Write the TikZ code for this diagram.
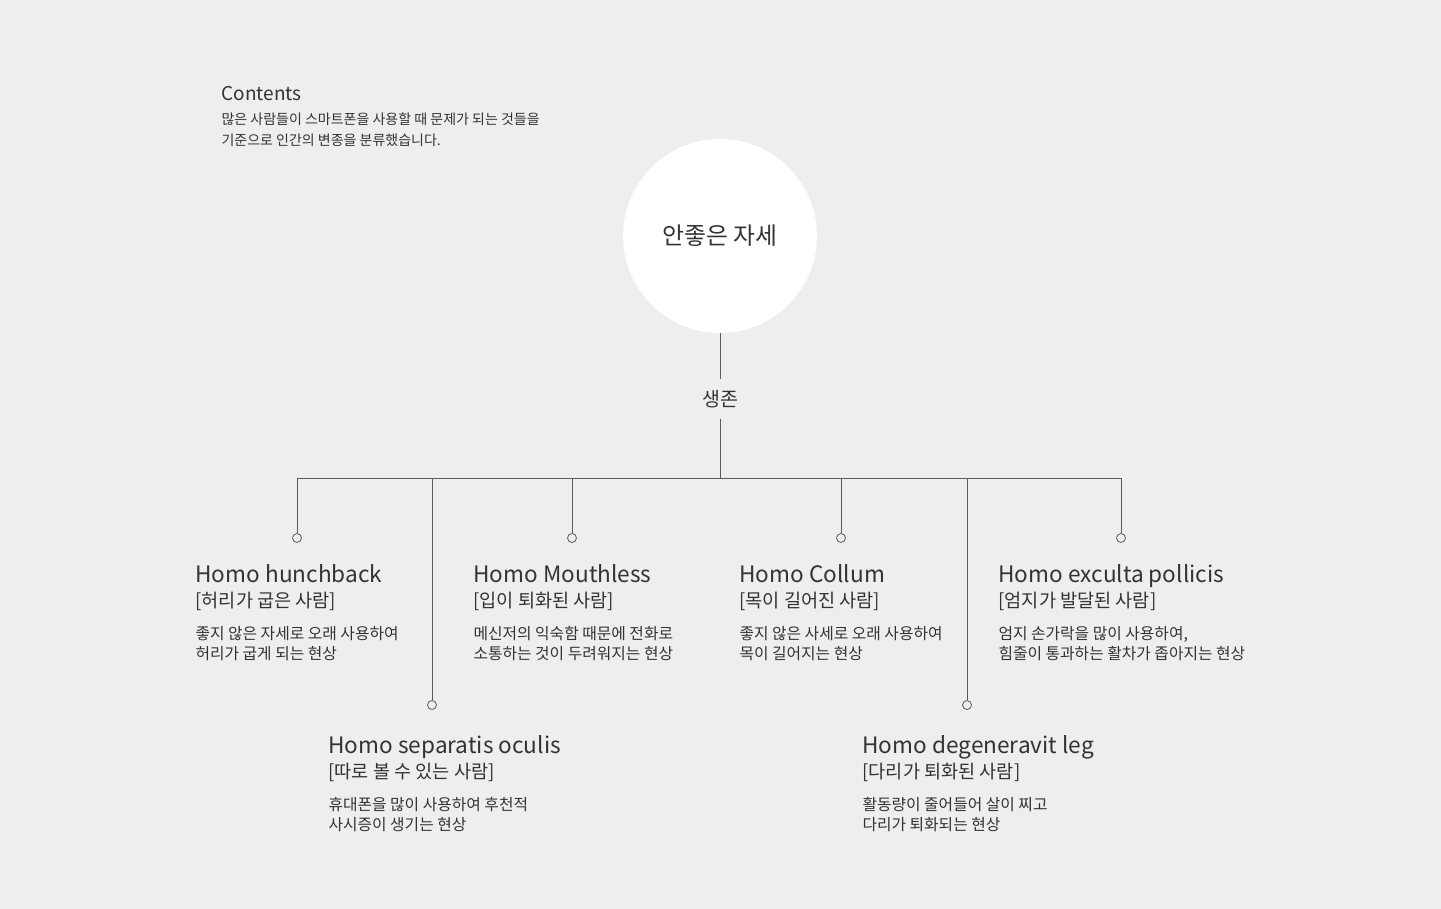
\documentclass[tikz,border=0pt]{standalone}
\usepackage{fontspec}
\setmainfont{Noto Sans CJK KR}
\usetikzlibrary{positioning}
\definecolor{bgcol}{RGB}{238,238,238}
\definecolor{txtcol}{RGB}{51,51,51}
\definecolor{linecol}{RGB}{90,90,90}

\begin{document}
\begin{tikzpicture}[x=1pt,y=-1pt,line width=1pt,draw=linecol,
  root node/.style={circle,fill=white,minimum size=194pt,inner sep=0pt,text=txtcol,font=\fontsize{23.8}{28}\selectfont},
  link node/.style={inner sep=0pt,minimum height=38pt,text=txtcol,font=\fontsize{19.5}{22}\selectfont},
  dot node/.style={circle,draw=linecol,fill=bgcol,line width=0.8pt,minimum size=9pt,inner sep=0pt},
  title node/.style={anchor=base west,inner sep=0pt,text=txtcol,font=\fontsize{22.6}{26}\selectfont},
  sub node/.style={anchor=base west,inner sep=0pt,text=txtcol,font=\fontsize{18.6}{22}\selectfont},
  desc node/.style={anchor=north west,inner sep=0pt,text=txtcol,align=left,font=\fontsize{15.8}{20}\selectfont}]

  \fill[bgcol] (0,0) rectangle (1441,909);
  \useasboundingbox (0,0) rectangle (1441,909);

  \node[anchor=base west,inner sep=0pt,text=txtcol,font=\fontsize{19}{24}\selectfont] (cont) at (221,101) {Contents};
  \node[desc node,font=\fontsize{14}{21}\selectfont] (intro) at (221,112) {많은 사람들이 스마트폰을 사용할 때 문제가 되는 것들을\\기준으로 인간의 변종을 분류했습니다.};

  \node[root node] (root) at (720,236) {안좋은 자세};
  \node[link node] (surv) at (720,399) {생존};
  \coordinate (hub) at (720,478);

  \coordinate (b1) at (297,478);
  \coordinate (b2) at (432,478);
  \coordinate (b3) at (572,478);
  \coordinate (b4) at (841,478);
  \coordinate (b5) at (967,478);
  \coordinate (b6) at (1121,478);

  \node[dot node] (d1) at (297,538) {};
  \node[dot node] (d2) at (432,705) {};
  \node[dot node] (d3) at (572,538) {};
  \node[dot node] (d4) at (841,538) {};
  \node[dot node] (d5) at (967,705) {};
  \node[dot node] (d6) at (1121,538) {};

  \node[title node] (t1) at (195,582) {Homo hunchback};
  \node[sub node] (s1) at (195,607) {[허리가 굽은 사람]};
  \node[desc node] (e1) at (195,626) {좋지 않은 자세로 오래 사용하여\\허리가 굽게 되는 현상};

  \node[title node] (t3) at (473,582) {Homo Mouthless};
  \node[sub node] (s3) at (473,607) {[입이 퇴화된 사람]};
  \node[desc node] (e3) at (473,626) {메신저의 익숙함 때문에 전화로\\소통하는 것이 두려워지는 현상};

  \node[title node] (t4) at (739,582) {Homo Collum};
  \node[sub node] (s4) at (739,607) {[목이 길어진 사람]};
  \node[desc node] (e4) at (739,626) {좋지 않은 사세로 오래 사용하여\\목이 길어지는 현상};

  \node[title node] (t6) at (998,582) {Homo exculta pollicis};
  \node[sub node] (s6) at (998,607) {[엄지가 발달된 사람]};
  \node[desc node] (e6) at (998,626) {엄지 손가락을 많이 사용하여,\\힘줄이 통과하는 활차가 좁아지는 현상};

  \node[title node] (t2) at (328,753) {Homo separatis oculis};
  \node[sub node] (s2) at (328,778) {[따로 볼 수 있는 사람]};
  \node[desc node] (e2) at (328,797) {휴대폰을 많이 사용하여 후천적\\사시증이 생기는 현상};

  \node[title node] (t5) at (862,753) {Homo degeneravit leg};
  \node[sub node] (s5) at (862,778) {[다리가 퇴화된 사람]};
  \node[desc node] (e5) at (862,797) {활동량이 줄어들어 살이 찌고\\다리가 퇴화되는 현상};

  \draw (root) -- (surv);
  \draw (surv) -- (hub);
  \draw (b1) -- (b6);
  \draw (b1) -- (d1);
  \draw (b2) -- (d2);
  \draw (b3) -- (d3);
  \draw (b4) -- (d4);
  \draw (b5) -- (d5);
  \draw (b6) -- (d6);
\end{tikzpicture}
\end{document}
